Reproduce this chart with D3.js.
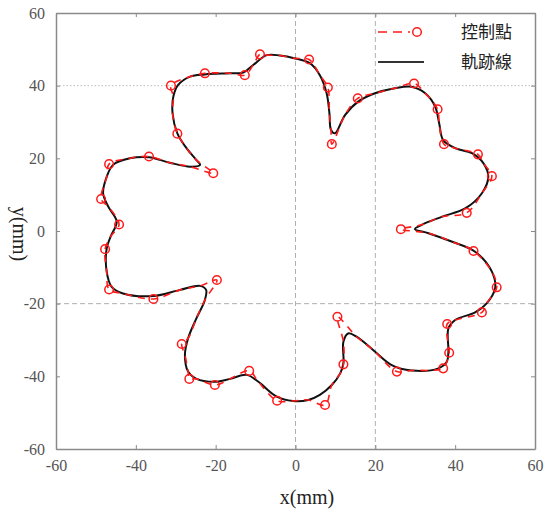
<!DOCTYPE html>
<html><head><meta charset="utf-8">
<script src="https://cdn.jsdelivr.net/npm/d3@7"></script>
<style>body{margin:0;background:#fff}svg{display:block}</style>
</head><body>
<svg id="c" width="545" height="519"></svg>
<script>
// Control points (red circles), in mm
const ctrlX = [-8.9,3.4,8.1,9.1,15.6,29.7,35.6,37.2,45.7,49.2,42.9,26.4,44.6,50.4,46.7,38.0,38.5,37.0,25.4,10.5,12.0,7.4,-4.6,-11.6,-20.2,-26.6,-28.5,-19.7,-35.6,-46.7,-47.7,-44.2,-48.7,-46.7,-36.7,-20.6,-29.6,-31.2,-22.7,-12.7];
const ctrlY = [48.6,47.2,39.5,23.9,36.5,40.6,33.5,23.9,21.1,15.1,5.0,0.5,-5.5,-15.5,-22.4,-25.6,-33.5,-37.8,-38.7,-23.6,-36.7,-47.9,-46.7,-38.5,-42.4,-40.7,-31.1,-13.5,-18.7,-16.1,-5.0,1.8,8.8,18.4,20.5,15.9,26.8,40.0,43.4,42.9];
// Trajectory (black line), in mm
const trajX = [-7.2,-3.9,-0.1,3.6,6.1,7.8,8.5,8.9,9.9,12.4,15.7,19.9,24.9,29.1,32.5,35.0,36.0,37.0,40.0,44.2,47.1,48.3,46.7,42.5,36.6,31.6,29.9,33.3,39.1,45.0,49.2,50.0,47.9,45.0,40.0,38.3,38.3,37.9,35.8,29.1,24.1,19.5,15.3,13.2,12.0,12.0,11.2,9.1,6.1,3.2,-0.6,-4.7,-9.3,-12.2,-16.4,-20.2,-24.8,-26.9,-27.7,-26.9,-24.8,-22.7,-22.4,-23.9,-28.9,-35.6,-43.2,-46.1,-47.3,-47.3,-46.3,-44.8,-46.9,-48.2,-47.3,-45.7,-41.5,-36.7,-31.5,-26.4,-23.9,-24.8,-27.3,-29.6,-30.8,-30.6,-29.4,-26.4,-22.7,-16.4,-13.1,-10.6];
const trajY = [48.4,48.3,47.5,46.2,42.9,37.9,32.4,27.8,26.9,31.9,35.6,37.9,39.3,39.7,37.9,34.2,29.6,25.0,22.8,21.4,18.6,14.9,10.4,6.2,3.9,1.7,0.5,-0.6,-2.9,-5.7,-11.2,-15.8,-19.9,-22.4,-24.5,-26.8,-33.2,-36.0,-37.8,-38.4,-36.9,-32.8,-29.1,-28.2,-30.5,-36.4,-39.2,-42.4,-45.1,-46.5,-46.8,-45.6,-41.5,-39.6,-40.7,-41.5,-40.7,-38.7,-34.1,-29.5,-24.0,-19.0,-16.2,-15.1,-16.2,-17.9,-17.2,-15.3,-11.2,-4.8,-1.5,2.6,6.7,10.4,14.9,18.2,20.0,20.3,18.8,17.7,18.2,19.5,22.8,26.9,32.4,37.0,40.2,42.5,43.1,43.4,43.6,45.7];
const ticks = [-60,-40,-20,0,20,40,60];
const legendLabels = ["控制點","軌跡線"];
const axisLabelX = "x(mm)", axisLabelY = "y(mm)";

const svg = d3.select("#c");
const L=56, R=535, T=13, B=449;
const x = d3.scaleLinear().domain([-60,60]).range([L,R]);
const y = d3.scaleLinear().domain([-60,60]).range([B,T]);
const grey = "#8a8a8a";

// grid lines
const g = svg.append("g");
g.append("line").attr("x1",x(0)).attr("x2",x(0)).attr("y1",T).attr("y2",B).attr("stroke","#b0b0b0").attr("stroke-dasharray","5,3");
g.append("line").attr("x1",x(20)).attr("x2",x(20)).attr("y1",T).attr("y2",B).attr("stroke","#b0b0b0").attr("stroke-dasharray","5,3");
g.append("line").attr("x1",L).attr("x2",R).attr("y1",y(-20)).attr("y2",y(-20)).attr("stroke","#b0b0b0").attr("stroke-dasharray","5,3");
g.append("line").attr("x1",L).attr("x2",R).attr("y1",y(40)).attr("y2",y(40)).attr("stroke","#bdbdbd").attr("stroke-dasharray","1.5,2");

// axes
function styleAxis(sel){
  sel.select(".domain").attr("stroke",grey).attr("stroke-width",1.5);
  sel.selectAll(".tick line").attr("stroke",grey).attr("stroke-width",1);
  sel.selectAll(".tick text").attr("fill","#555").attr("font-family","'Liberation Serif',serif").attr("font-size","16px");
}
const fmt = d => String(d);
const ax = svg.append("g").attr("transform",`translate(0,${B})`).call(d3.axisBottom(x).tickValues(ticks).tickSizeInner(-4).tickSizeOuter(0).tickPadding(11).tickFormat(fmt));
styleAxis(ax);
const ay = svg.append("g").attr("transform",`translate(${L},0)`).call(d3.axisLeft(y).tickValues(ticks).tickSizeInner(-4).tickSizeOuter(0).tickPadding(11).tickFormat(fmt));
styleAxis(ay);
const at = svg.append("g").attr("transform",`translate(0,${T})`).call(d3.axisTop(x).tickValues(ticks).tickSizeInner(-4).tickSizeOuter(0).tickFormat(""));
styleAxis(at);
const ar = svg.append("g").attr("transform",`translate(${R},0)`).call(d3.axisRight(y).tickValues(ticks).tickSizeInner(-4).tickSizeOuter(0).tickFormat(""));
styleAxis(ar);

// data
const traj = trajX.map((v,i)=>[v,trajY[i]]);
const ctrl = ctrlX.map((v,i)=>[v,ctrlY[i]]);

// red dashed path: follows trajectory, visiting each control point where it lies nearest
const ins = ctrl.map(p => {
  let best = {d:Infinity, k:0};
  for (let i=0;i<traj.length;i++){
    const a = traj[i], b = traj[(i+1)%traj.length];
    const dx=b[0]-a[0], dy=b[1]-a[1];
    let t = ((p[0]-a[0])*dx+(p[1]-a[1])*dy)/(dx*dx+dy*dy);
    t = Math.max(0,Math.min(1,t));
    const qx=a[0]+t*dx, qy=a[1]+t*dy;
    const d = Math.hypot(p[0]-qx,p[1]-qy);
    if (d<best.d) best = {d, k:i+t};
  }
  return {p, k:best.k};
});
const merged = traj.map((p,i)=>({p,k:i}))
  .filter(o => !ins.some(c => Math.abs(c.k-o.k) < 0.35))
  .concat(ins).sort((a,b)=>a.k-b.k).map(o=>o.p);

const line = d3.line().x(d=>x(d[0])).y(d=>y(d[1]));

svg.append("path").datum(traj).attr("d", line.curve(d3.curveCatmullRomClosed.alpha(0.5)))
  .attr("fill","none").attr("stroke","#111").attr("stroke-width",2);
svg.append("path").datum(merged).attr("d", line.curve(d3.curveCatmullRomClosed.alpha(0.5)))
  .attr("fill","none").attr("stroke","#ff1a1a").attr("stroke-width",1.6).attr("stroke-dasharray","7,6");
svg.append("g").selectAll("circle").data(ctrl).join("circle")
  .attr("cx",d=>x(d[0])).attr("cy",d=>y(d[1])).attr("r",4.3)
  .attr("fill","none").attr("stroke","#ff1a1a").attr("stroke-width",1.5);

// legend
const lg = svg.append("g");
lg.append("line").attr("x1",378).attr("x2",410).attr("y1",32).attr("y2",32).attr("stroke","#ff1a1a").attr("stroke-width",1.6).attr("stroke-dasharray","9,6");
lg.append("circle").attr("cx",417).attr("cy",32).attr("r",4.3).attr("fill","none").attr("stroke","#ff1a1a").attr("stroke-width",1.5);
lg.append("line").attr("x1",378).attr("x2",424).attr("y1",62).attr("y2",62).attr("stroke","#333").attr("stroke-width",2);
lg.selectAll("text").data(legendLabels).join("text")
  .attr("x",461).attr("y",(d,i)=>32+i*30).attr("dy","0.36em")
  .attr("font-family","'Noto Sans CJK TC',sans-serif").attr("font-size","17px").attr("fill","#222").text(d=>d);

// axis labels
svg.append("text").attr("x",307).attr("y",504).attr("text-anchor","middle")
  .attr("font-family","'Liberation Serif',serif").attr("font-size","20px").attr("fill","#222").text(axisLabelX);
svg.append("text").attr("transform","translate(13,234) rotate(90)").attr("text-anchor","middle")
  .attr("font-family","'Liberation Serif',serif").attr("font-size","20px").attr("fill","#222").text(axisLabelY);
</script>
</body></html>
